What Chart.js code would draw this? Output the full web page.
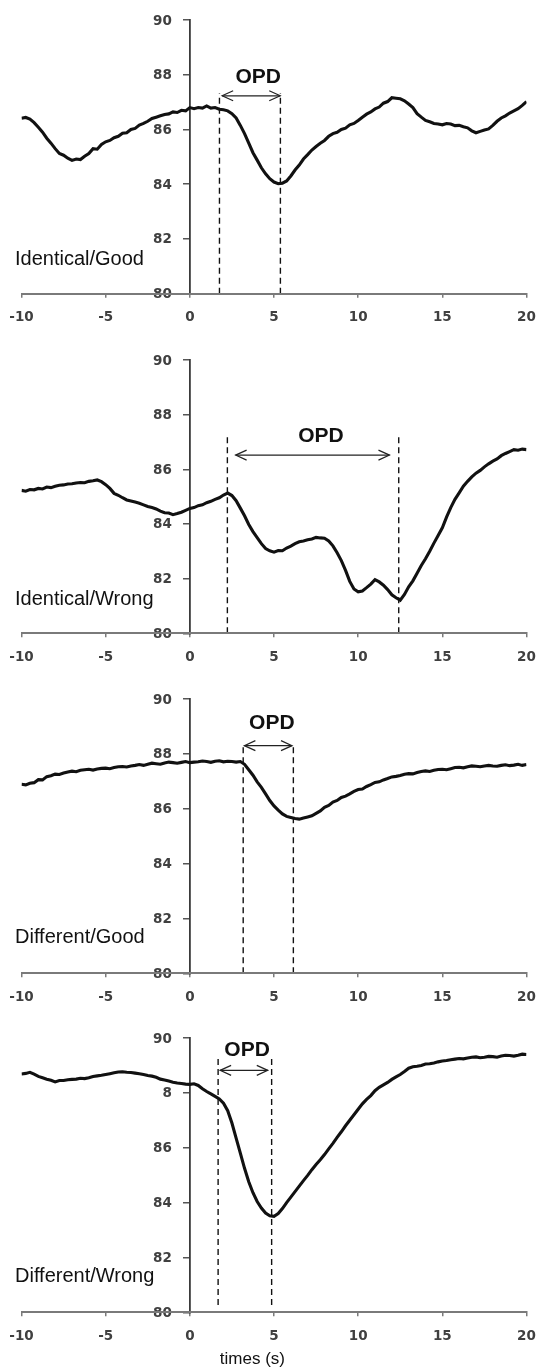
<!DOCTYPE html>
<html>
<head>
<meta charset="utf-8">
<title>OPD traces</title>
<script src="https://cdn.jsdelivr.net/npm/chart.js@4.4.1/dist/chart.umd.min.js"></script>
<style>
  html, body { margin: 0; padding: 0; background: #fff; }
  #wrap { position: relative; width: 536px; height: 1369px; overflow: hidden; }
  .panel { position: absolute; left: 0; width: 541px; }
  .panel canvas { display: block; }
</style>
</head>
<body>
<div id="wrap"></div>
<script>
// time axis (s), one sample every 0.25 s
const times = [-10, -9.75, -9.5, -9.25, -9, -8.75, -8.5, -8.25, -8, -7.75, -7.5, -7.25, -7, -6.75, -6.5, -6.25, -6, -5.75, -5.5, -5.25,
  -5, -4.75, -4.5, -4.25, -4, -3.75, -3.5, -3.25, -3, -2.75, -2.5, -2.25, -2, -1.75, -1.5, -1.25, -1, -0.75, -0.5, -0.25,
  0, 0.25, 0.5, 0.75, 1, 1.25, 1.5, 1.75, 2, 2.25, 2.5, 2.75, 3, 3.25, 3.5, 3.75, 4, 4.25, 4.5, 4.75,
  5, 5.25, 5.5, 5.75, 6, 6.25, 6.5, 6.75, 7, 7.25, 7.5, 7.75, 8, 8.25, 8.5, 8.75, 9, 9.25, 9.5, 9.75,
  10, 10.25, 10.5, 10.75, 11, 11.25, 11.5, 11.75, 12, 12.25, 12.5, 12.75, 13, 13.25, 13.5, 13.75, 14, 14.25, 14.5, 14.75,
  15, 15.25, 15.5, 15.75, 16, 16.25, 16.5, 16.75, 17, 17.25, 17.5, 17.75, 18, 18.25, 18.5, 18.75, 19, 19.25, 19.5, 19.75, 20];

const identicalGood = [86.41, 86.44, 86.38, 86.25, 86.08, 85.90, 85.68, 85.50, 85.30, 85.12, 85.06, 84.95, 84.87, 84.92, 84.90, 85.02, 85.12, 85.30, 85.28, 85.45,
  85.55, 85.60, 85.70, 85.75, 85.86, 85.88, 86.00, 86.04, 86.16, 86.22, 86.30, 86.40, 86.45, 86.50, 86.55, 86.57, 86.64, 86.62, 86.70, 86.68,
  86.80, 86.76, 86.80, 86.78, 86.86, 86.78, 86.80, 86.74, 86.72, 86.68, 86.58, 86.42, 86.15, 85.85, 85.50, 85.15, 84.88, 84.60, 84.38, 84.20,
  84.08, 84.02, 84.04, 84.12, 84.30, 84.52, 84.70, 84.92, 85.08, 85.25, 85.38, 85.50, 85.60, 85.75, 85.85, 85.90, 86.00, 86.05, 86.17, 86.22,
  86.33, 86.45, 86.56, 86.64, 86.75, 86.82, 86.96, 87.02, 87.16, 87.14, 87.12, 87.05, 86.93, 86.80, 86.58, 86.45, 86.33, 86.28, 86.22, 86.20,
  86.17, 86.22, 86.20, 86.14, 86.15, 86.10, 86.06, 85.95, 85.88, 85.93, 85.98, 86.02, 86.15, 86.30, 86.42, 86.50, 86.60, 86.68, 86.76, 86.88, 87.02];

const identicalWrong = [85.23, 85.20, 85.26, 85.25, 85.30, 85.28, 85.35, 85.33, 85.38, 85.42, 85.43, 85.46, 85.47, 85.50, 85.52, 85.51, 85.56, 85.58, 85.61, 85.55,
  85.44, 85.30, 85.12, 85.05, 84.96, 84.88, 84.84, 84.80, 84.76, 84.70, 84.64, 84.60, 84.55, 84.47, 84.41, 84.40, 84.34, 84.38, 84.43, 84.50,
  84.57, 84.60, 84.67, 84.70, 84.78, 84.83, 84.90, 84.96, 85.06, 85.13, 85.04, 84.85, 84.58, 84.30, 83.98, 83.72, 83.50, 83.28, 83.10, 83.02,
  82.97, 83.03, 83.02, 83.12, 83.19, 83.28, 83.35, 83.38, 83.42, 83.45, 83.51, 83.49, 83.48, 83.38, 83.20, 82.95, 82.66, 82.30, 81.90, 81.62,
  81.52, 81.55, 81.67, 81.80, 81.96, 81.88, 81.76, 81.60, 81.41, 81.30, 81.21, 81.42, 81.70, 81.92, 82.20, 82.48, 82.73, 83.00, 83.30, 83.58,
  83.86, 84.25, 84.60, 84.90, 85.14, 85.38, 85.56, 85.72, 85.86, 85.96, 86.09, 86.20, 86.30, 86.38, 86.50, 86.58, 86.65, 86.72, 86.70, 86.74, 86.72];

const differentGood = [86.89, 86.87, 86.93, 86.95, 87.06, 87.05, 87.17, 87.20, 87.26, 87.25, 87.30, 87.34, 87.37, 87.35, 87.40, 87.42, 87.44, 87.41, 87.45, 87.47,
  87.48, 87.46, 87.50, 87.53, 87.54, 87.52, 87.56, 87.58, 87.61, 87.58, 87.62, 87.66, 87.64, 87.62, 87.67, 87.70, 87.68, 87.66, 87.69, 87.72,
  87.68, 87.70, 87.71, 87.74, 87.72, 87.69, 87.73, 87.75, 87.71, 87.73, 87.72, 87.70, 87.72, 87.62, 87.42, 87.22, 86.98, 86.78, 86.54, 86.30,
  86.10, 85.95, 85.81, 85.72, 85.68, 85.64, 85.62, 85.66, 85.70, 85.74, 85.83, 85.92, 86.05, 86.12, 86.24, 86.30, 86.41, 86.46, 86.54, 86.63,
  86.70, 86.72, 86.81, 86.88, 86.96, 86.98, 87.05, 87.10, 87.16, 87.18, 87.21, 87.26, 87.28, 87.27, 87.32, 87.36, 87.38, 87.36, 87.40, 87.43,
  87.44, 87.42, 87.46, 87.50, 87.51, 87.49, 87.53, 87.56, 87.55, 87.53, 87.56, 87.58, 87.56, 87.55, 87.58, 87.60, 87.57, 87.59, 87.62, 87.58, 87.61];

const differentWrong = [88.69, 88.71, 88.75, 88.68, 88.60, 88.55, 88.50, 88.46, 88.40, 88.45, 88.45, 88.48, 88.49, 88.50, 88.53, 88.52, 88.55, 88.60, 88.62, 88.64,
  88.67, 88.70, 88.73, 88.76, 88.77, 88.75, 88.74, 88.72, 88.70, 88.67, 88.63, 88.61, 88.57, 88.50, 88.47, 88.43, 88.39, 88.36, 88.34, 88.32,
  88.31, 88.33, 88.27, 88.15, 88.05, 87.96, 87.87, 87.78, 87.62, 87.35, 86.90, 86.35, 85.80, 85.25, 84.76, 84.36, 84.04, 83.80, 83.62, 83.52,
  83.50, 83.60, 83.78, 84.00, 84.20, 84.40, 84.60, 84.80, 84.99, 85.20, 85.39, 85.56, 85.75, 85.96, 86.16, 86.38, 86.58, 86.80, 87.00, 87.20,
  87.40, 87.60, 87.76, 87.90, 88.08, 88.20, 88.29, 88.38, 88.49, 88.58, 88.67, 88.78, 88.90, 88.95, 88.97, 89.00, 89.05, 89.06, 89.09, 89.13,
  89.16, 89.18, 89.21, 89.23, 89.25, 89.24, 89.27, 89.30, 89.31, 89.28, 89.30, 89.33, 89.32, 89.30, 89.34, 89.37, 89.36, 89.34, 89.37, 89.41, 89.40];

const xTicks = [-10, -5, 0, 5, 10, 15, 20];
const yTicks = [80, 82, 84, 86, 88, 90];

const panelNames = ['Identical/Good', 'Identical/Wrong', 'Different/Good', 'Different/Wrong'];
const panelSeries = [identicalGood, identicalWrong, differentGood, differentWrong];
// OPD markers: dashed line times, dashed line ends, arrow ends, arrow level, label spot
const opdLines = [[1.76, 5.38], [2.23, 12.41], [3.17, 6.15], [1.68, 4.86]];
const opdLineTop = [87.32, 87.32, 88.35, 89.27];
const opdLineBottom = [80, 80, 80, 80.27];
const opdArrow = [[1.92, 5.37], [2.72, 11.86], [3.24, 6.07], [1.80, 4.63]];
const opdArrowY = [87.23, 86.52, 88.30, 88.82];
const opdLabelPos = [[4.06, 87.90], [7.79, 87.22], [4.87, 89.11], [3.40, 89.54]];
const nameLabelY = [81.26, 81.24, 81.31, 81.30];

// page layout (pixels)
const panelTop = [0, 340, 679, 1018];
const panelHeight = [339, 339, 339, 351];
const plotBottom = [293.7, 293.3, 294.3, 294.3];
const pageWidth = 541;

const tickFont = 'bold 13.5px "DejaVu Sans", sans-serif';

const annotate = {
  id: 'annotate',
  beforeDatasetsDraw(chart, args, opts) {
    // y tick labels, left of the axis that sits at x = 0
    const {ctx} = chart;
    const x = chart.scales.x, y = chart.scales.y;
    const ax = x.getPixelForValue(0);
    ctx.save();
    ctx.font = tickFont;
    ctx.fillStyle = '#404040';
    ctx.textAlign = 'right';
    ctx.textBaseline = 'middle';
    yTicks.forEach(v => {
      const txt = (opts.shortLabel && v === 88) ? '8' : String(v);
      ctx.fillText(txt, ax - 18, y.getPixelForValue(v) + 1);
    });
    ctx.restore();
  },
  afterDatasetsDraw(chart, args, opts) {
    const {ctx} = chart;
    const x = chart.scales.x, y = chart.scales.y;
    ctx.save();
    // arrow heads
    const meta = chart.getDatasetMeta(3);
    const p0 = meta.data[0], p1 = meta.data[1];
    ctx.strokeStyle = '#222';
    ctx.lineWidth = 1.2;
    ctx.beginPath();
    ctx.moveTo(p0.x + 11, p0.y - 5); ctx.lineTo(p0.x, p0.y); ctx.lineTo(p0.x + 11, p0.y + 5);
    ctx.moveTo(p1.x - 11, p1.y - 5); ctx.lineTo(p1.x, p1.y); ctx.lineTo(p1.x - 11, p1.y + 5);
    ctx.stroke();
    // OPD label
    ctx.fillStyle = '#111';
    ctx.font = 'bold 21px "Liberation Sans", Arial, sans-serif';
    ctx.textAlign = 'center';
    ctx.textBaseline = 'middle';
    ctx.fillText('OPD', x.getPixelForValue(opts.opd[0]), y.getPixelForValue(opts.opd[1]));
    // panel name
    ctx.font = '20px "Liberation Sans", Arial, sans-serif';
    ctx.textAlign = 'left';
    ctx.fillText(opts.name, 15, y.getPixelForValue(opts.nameY));
    if (opts.xTitle) {
      ctx.font = '17px "Liberation Sans", Arial, sans-serif';
      ctx.textAlign = 'center';
      ctx.fillText(opts.xTitle, x.getPixelForValue(3.72), chart.chartArea.bottom + 47);
    }
    ctx.restore();
  }
};

const wrap = document.getElementById('wrap');

panelSeries.forEach((values, i) => {
  const div = document.createElement('div');
  div.className = 'panel';
  div.style.top = panelTop[i] + 'px';
  div.style.height = panelHeight[i] + 'px';
  const canvas = document.createElement('canvas');
  canvas.width = pageWidth;
  canvas.height = panelHeight[i];
  canvas.style.width = pageWidth + 'px';
  canvas.style.height = panelHeight[i] + 'px';
  div.appendChild(canvas);
  wrap.appendChild(div);

  const line = times.map((t, k) => ({x: t, y: values[k]}));
  const last = i === panelSeries.length - 1;

  new Chart(canvas, {
    type: 'line',
    data: {
      datasets: [
        {
          data: line,
          borderColor: '#111',
          borderWidth: 3.1,
          pointRadius: 0,
          tension: 0,
          order: 0
        },
        {
          data: [{x: opdLines[i][0], y: opdLineBottom[i]}, {x: opdLines[i][0], y: opdLineTop[i]}],
          borderColor: '#111', borderWidth: 1.4, borderDash: [6, 4], pointRadius: 0, order: 1
        },
        {
          data: [{x: opdLines[i][1], y: opdLineBottom[i]}, {x: opdLines[i][1], y: opdLineTop[i]}],
          borderColor: '#111', borderWidth: 1.4, borderDash: [6, 4], pointRadius: 0, order: 1
        },
        {
          data: [{x: opdArrow[i][0], y: opdArrowY[i]}, {x: opdArrow[i][1], y: opdArrowY[i]}],
          borderColor: '#222', borderWidth: 1.2, pointRadius: 0, order: 1
        }
      ]
    },
    options: {
      responsive: false,
      animation: false,
      devicePixelRatio: 1,
      events: [],
      layout: {
        padding: {left: 21.5, right: 14.5, top: 20, bottom: panelHeight[i] - 40 - plotBottom[i]}
      },
      plugins: {
        legend: {display: false},
        tooltip: {enabled: false},
        annotate: {
          opd: opdLabelPos[i],
          name: panelNames[i],
          nameY: nameLabelY[i],
          shortLabel: last,
          xTitle: last ? 'times (s)' : null
        }
      },
      scales: {
        x: {
          type: 'linear',
          position: 'bottom',
          min: -10,
          max: 20,
          afterFit(scale) { scale.height = 40; },
          afterBuildTicks(scale) { scale.ticks = xTicks.map(v => ({value: v})); },
          grid: {drawOnChartArea: false, drawTicks: true, tickLength: 4, color: '#7a7a7a', lineWidth: 1.5},
          border: {display: true, color: '#7a7a7a', width: 2, z: 1},
          ticks: {
            padding: 3,
            color: '#404040',
            font: {family: '"DejaVu Sans", sans-serif', weight: 'bold', size: 13.5, lineHeight: 2.53}
          }
        },
        y: {
          type: 'linear',
          position: {x: 0},
          min: 80,
          max: 90,
          afterBuildTicks(scale) { scale.ticks = yTicks.map(v => ({value: v})); },
          grid: {drawOnChartArea: false, drawTicks: true, tickLength: 6, color: '#555', lineWidth: 1.5},
          border: {display: true, color: '#3a3a3a', width: 1.8},
          ticks: {display: false}
        }
      }
    },
    plugins: [annotate]
  });
});
</script>
</body>
</html>
